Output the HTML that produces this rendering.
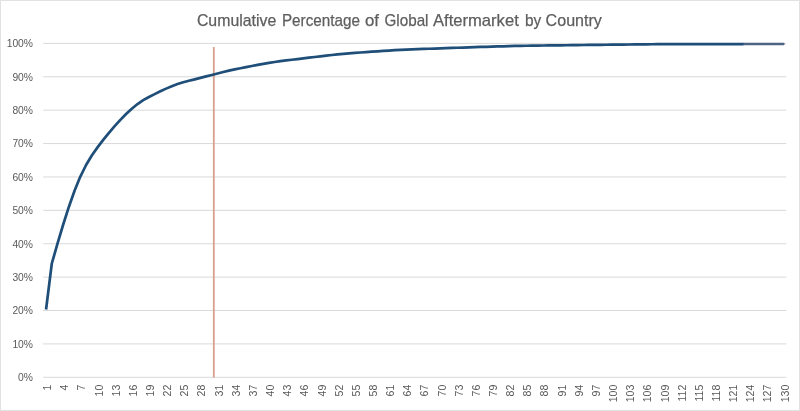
<!DOCTYPE html>
<html><head><meta charset="utf-8"><style>
html,body{margin:0;padding:0;background:#fff;}
svg{display:block;will-change:transform;}
</style></head><body>
<svg width="800" height="411" viewBox="0 0 800 411">
<rect x="0" y="0" width="800" height="411" fill="#fff"/>
<rect x="0.5" y="0.5" width="799" height="410" fill="none" stroke="#e2e2e2" stroke-width="1"/>
<g font-family="Liberation Sans, sans-serif" font-size="16.6" fill="#5e5e5e" stroke="#5e5e5e" stroke-width="0.25"><text y="25.6"><tspan x="196.90" textLength="79.35" lengthAdjust="spacingAndGlyphs">Cumulative</tspan> <tspan x="281.90" textLength="78.10" lengthAdjust="spacingAndGlyphs">Percentage</tspan> <tspan x="365.00" textLength="14.00" lengthAdjust="spacingAndGlyphs">of</tspan> <tspan x="384.50" textLength="44.00" lengthAdjust="spacingAndGlyphs">Global</tspan> <tspan x="433.00" textLength="85.75" lengthAdjust="spacingAndGlyphs">Aftermarket</tspan> <tspan x="525.00" textLength="16.25" lengthAdjust="spacingAndGlyphs">by</tspan> <tspan x="545.60" textLength="56.30" lengthAdjust="spacingAndGlyphs">Country</tspan></text></g>
<g stroke="#d9d9d9" stroke-width="1"><line x1="43.2" y1="43.40" x2="786.3" y2="43.40"/><line x1="43.2" y1="76.79" x2="786.3" y2="76.79"/><line x1="43.2" y1="110.18" x2="786.3" y2="110.18"/><line x1="43.2" y1="143.57" x2="786.3" y2="143.57"/><line x1="43.2" y1="176.96" x2="786.3" y2="176.96"/><line x1="43.2" y1="210.35" x2="786.3" y2="210.35"/><line x1="43.2" y1="243.74" x2="786.3" y2="243.74"/><line x1="43.2" y1="277.13" x2="786.3" y2="277.13"/><line x1="43.2" y1="310.52" x2="786.3" y2="310.52"/><line x1="43.2" y1="343.91" x2="786.3" y2="343.91"/><line x1="43.2" y1="377.30" x2="786.3" y2="377.30"/></g>
<g font-family="Liberation Sans, sans-serif" font-size="10.3" fill="#595959" text-anchor="end"><text x="33.0" y="47.30">100%</text><text x="33.0" y="80.69">90%</text><text x="33.0" y="114.08">80%</text><text x="33.0" y="147.47">70%</text><text x="33.0" y="180.86">60%</text><text x="33.0" y="214.25">50%</text><text x="33.0" y="247.64">40%</text><text x="33.0" y="281.03">30%</text><text x="33.0" y="314.42">20%</text><text x="33.0" y="347.81">10%</text><text x="33.0" y="381.20">0%</text></g>
<g font-family="Liberation Sans, sans-serif" font-size="10.6" fill="#595959" text-anchor="end"><text transform="translate(51.16,384.6) rotate(-90)">1</text><text transform="translate(68.31,384.6) rotate(-90)">4</text><text transform="translate(85.45,384.6) rotate(-90)">7</text><text transform="translate(102.60,384.6) rotate(-90)">10</text><text transform="translate(119.75,384.6) rotate(-90)">13</text><text transform="translate(136.90,384.6) rotate(-90)">16</text><text transform="translate(154.05,384.6) rotate(-90)">19</text><text transform="translate(171.20,384.6) rotate(-90)">22</text><text transform="translate(188.35,384.6) rotate(-90)">25</text><text transform="translate(205.49,384.6) rotate(-90)">28</text><text transform="translate(222.64,384.6) rotate(-90)">31</text><text transform="translate(239.79,384.6) rotate(-90)">34</text><text transform="translate(256.94,384.6) rotate(-90)">37</text><text transform="translate(274.09,384.6) rotate(-90)">40</text><text transform="translate(291.24,384.6) rotate(-90)">43</text><text transform="translate(308.38,384.6) rotate(-90)">46</text><text transform="translate(325.53,384.6) rotate(-90)">49</text><text transform="translate(342.68,384.6) rotate(-90)">52</text><text transform="translate(359.83,384.6) rotate(-90)">55</text><text transform="translate(376.98,384.6) rotate(-90)">58</text><text transform="translate(394.13,384.6) rotate(-90)">61</text><text transform="translate(411.28,384.6) rotate(-90)">64</text><text transform="translate(428.42,384.6) rotate(-90)">67</text><text transform="translate(445.57,384.6) rotate(-90)">70</text><text transform="translate(462.72,384.6) rotate(-90)">73</text><text transform="translate(479.87,384.6) rotate(-90)">76</text><text transform="translate(497.02,384.6) rotate(-90)">79</text><text transform="translate(514.17,384.6) rotate(-90)">82</text><text transform="translate(531.31,384.6) rotate(-90)">85</text><text transform="translate(548.46,384.6) rotate(-90)">88</text><text transform="translate(565.61,384.6) rotate(-90)">91</text><text transform="translate(582.76,384.6) rotate(-90)">94</text><text transform="translate(599.91,384.6) rotate(-90)">97</text><text transform="translate(617.06,384.6) rotate(-90)">100</text><text transform="translate(634.21,384.6) rotate(-90)">103</text><text transform="translate(651.35,384.6) rotate(-90)">106</text><text transform="translate(668.50,384.6) rotate(-90)">109</text><text transform="translate(685.65,384.6) rotate(-90)">112</text><text transform="translate(702.80,384.6) rotate(-90)">115</text><text transform="translate(719.95,384.6) rotate(-90)">118</text><text transform="translate(737.10,384.6) rotate(-90)">121</text><text transform="translate(754.24,384.6) rotate(-90)">124</text><text transform="translate(771.39,384.6) rotate(-90)">127</text><text transform="translate(788.54,384.6) rotate(-90)">130</text></g>
<line x1="213.8" y1="47" x2="213.8" y2="377.5" stroke="#d89f8c" stroke-width="1.8"/>
<polyline points="743.43,44.04 749.14,44.04 754.86,44.03 760.58,44.02 766.29,44.02 772.01,44.01 777.73,44.01 783.44,44.00" fill="none" stroke="#4d6482" stroke-width="2.4" stroke-linejoin="round" stroke-linecap="round"/>
<polyline points="46.06,309.54 51.77,263.73 57.49,243.56 63.21,224.49 68.92,206.68 74.64,190.57 80.35,176.60 86.07,165.00 91.79,155.49 97.50,147.36 103.22,139.91 108.94,132.81 114.65,126.10 120.37,119.85 126.08,114.02 131.80,108.69 137.52,104.04 143.23,100.19 148.95,96.99 154.66,94.10 160.38,91.31 166.10,88.63 171.81,86.16 177.53,84.05 183.25,82.30 188.96,80.80 194.68,79.34 200.39,77.88 206.11,76.43 211.83,74.97 217.54,73.51 223.26,72.05 228.97,70.66 234.69,69.39 240.41,68.24 246.12,67.13 251.84,66.04 257.56,64.95 263.27,63.89 268.99,62.89 274.70,61.98 280.42,61.17 286.14,60.45 291.85,59.76 297.57,59.08 303.28,58.39 309.00,57.70 314.72,57.02 320.43,56.33 326.15,55.65 331.87,54.99 337.58,54.38 343.30,53.82 349.01,53.33 354.73,52.89 360.45,52.48 366.16,52.09 371.88,51.69 377.59,51.30 383.31,50.92 389.03,50.56 394.74,50.22 400.46,49.92 406.18,49.65 411.89,49.40 417.61,49.18 423.32,48.96 429.04,48.74 434.76,48.53 440.47,48.33 446.19,48.13 451.90,47.94 457.62,47.75 463.34,47.55 469.05,47.36 474.77,47.17 480.49,46.97 486.20,46.78 491.92,46.60 497.63,46.44 503.35,46.28 509.07,46.12 514.78,45.96 520.50,45.84 526.21,45.74 531.93,45.67 537.65,45.60 543.36,45.52 549.08,45.45 554.80,45.38 560.51,45.30 566.23,45.23 571.94,45.16 577.66,45.09 583.38,45.01 589.09,44.94 594.81,44.87 600.52,44.80 606.24,44.74 611.96,44.67 617.67,44.61 623.39,44.55 629.11,44.48 634.82,44.42 640.54,44.36 646.25,44.29 651.97,44.24 657.69,44.19 663.40,44.16 669.12,44.14 674.83,44.12 680.55,44.11 686.27,44.11 691.98,44.10 697.70,44.09 703.42,44.09 709.13,44.08 714.85,44.07 720.56,44.07 726.28,44.06 732.00,44.06 737.71,44.05 743.43,44.04" fill="none" stroke="#1f4e79" stroke-width="2.7" stroke-linejoin="round" stroke-linecap="butt"/>
</svg>
</body></html>
